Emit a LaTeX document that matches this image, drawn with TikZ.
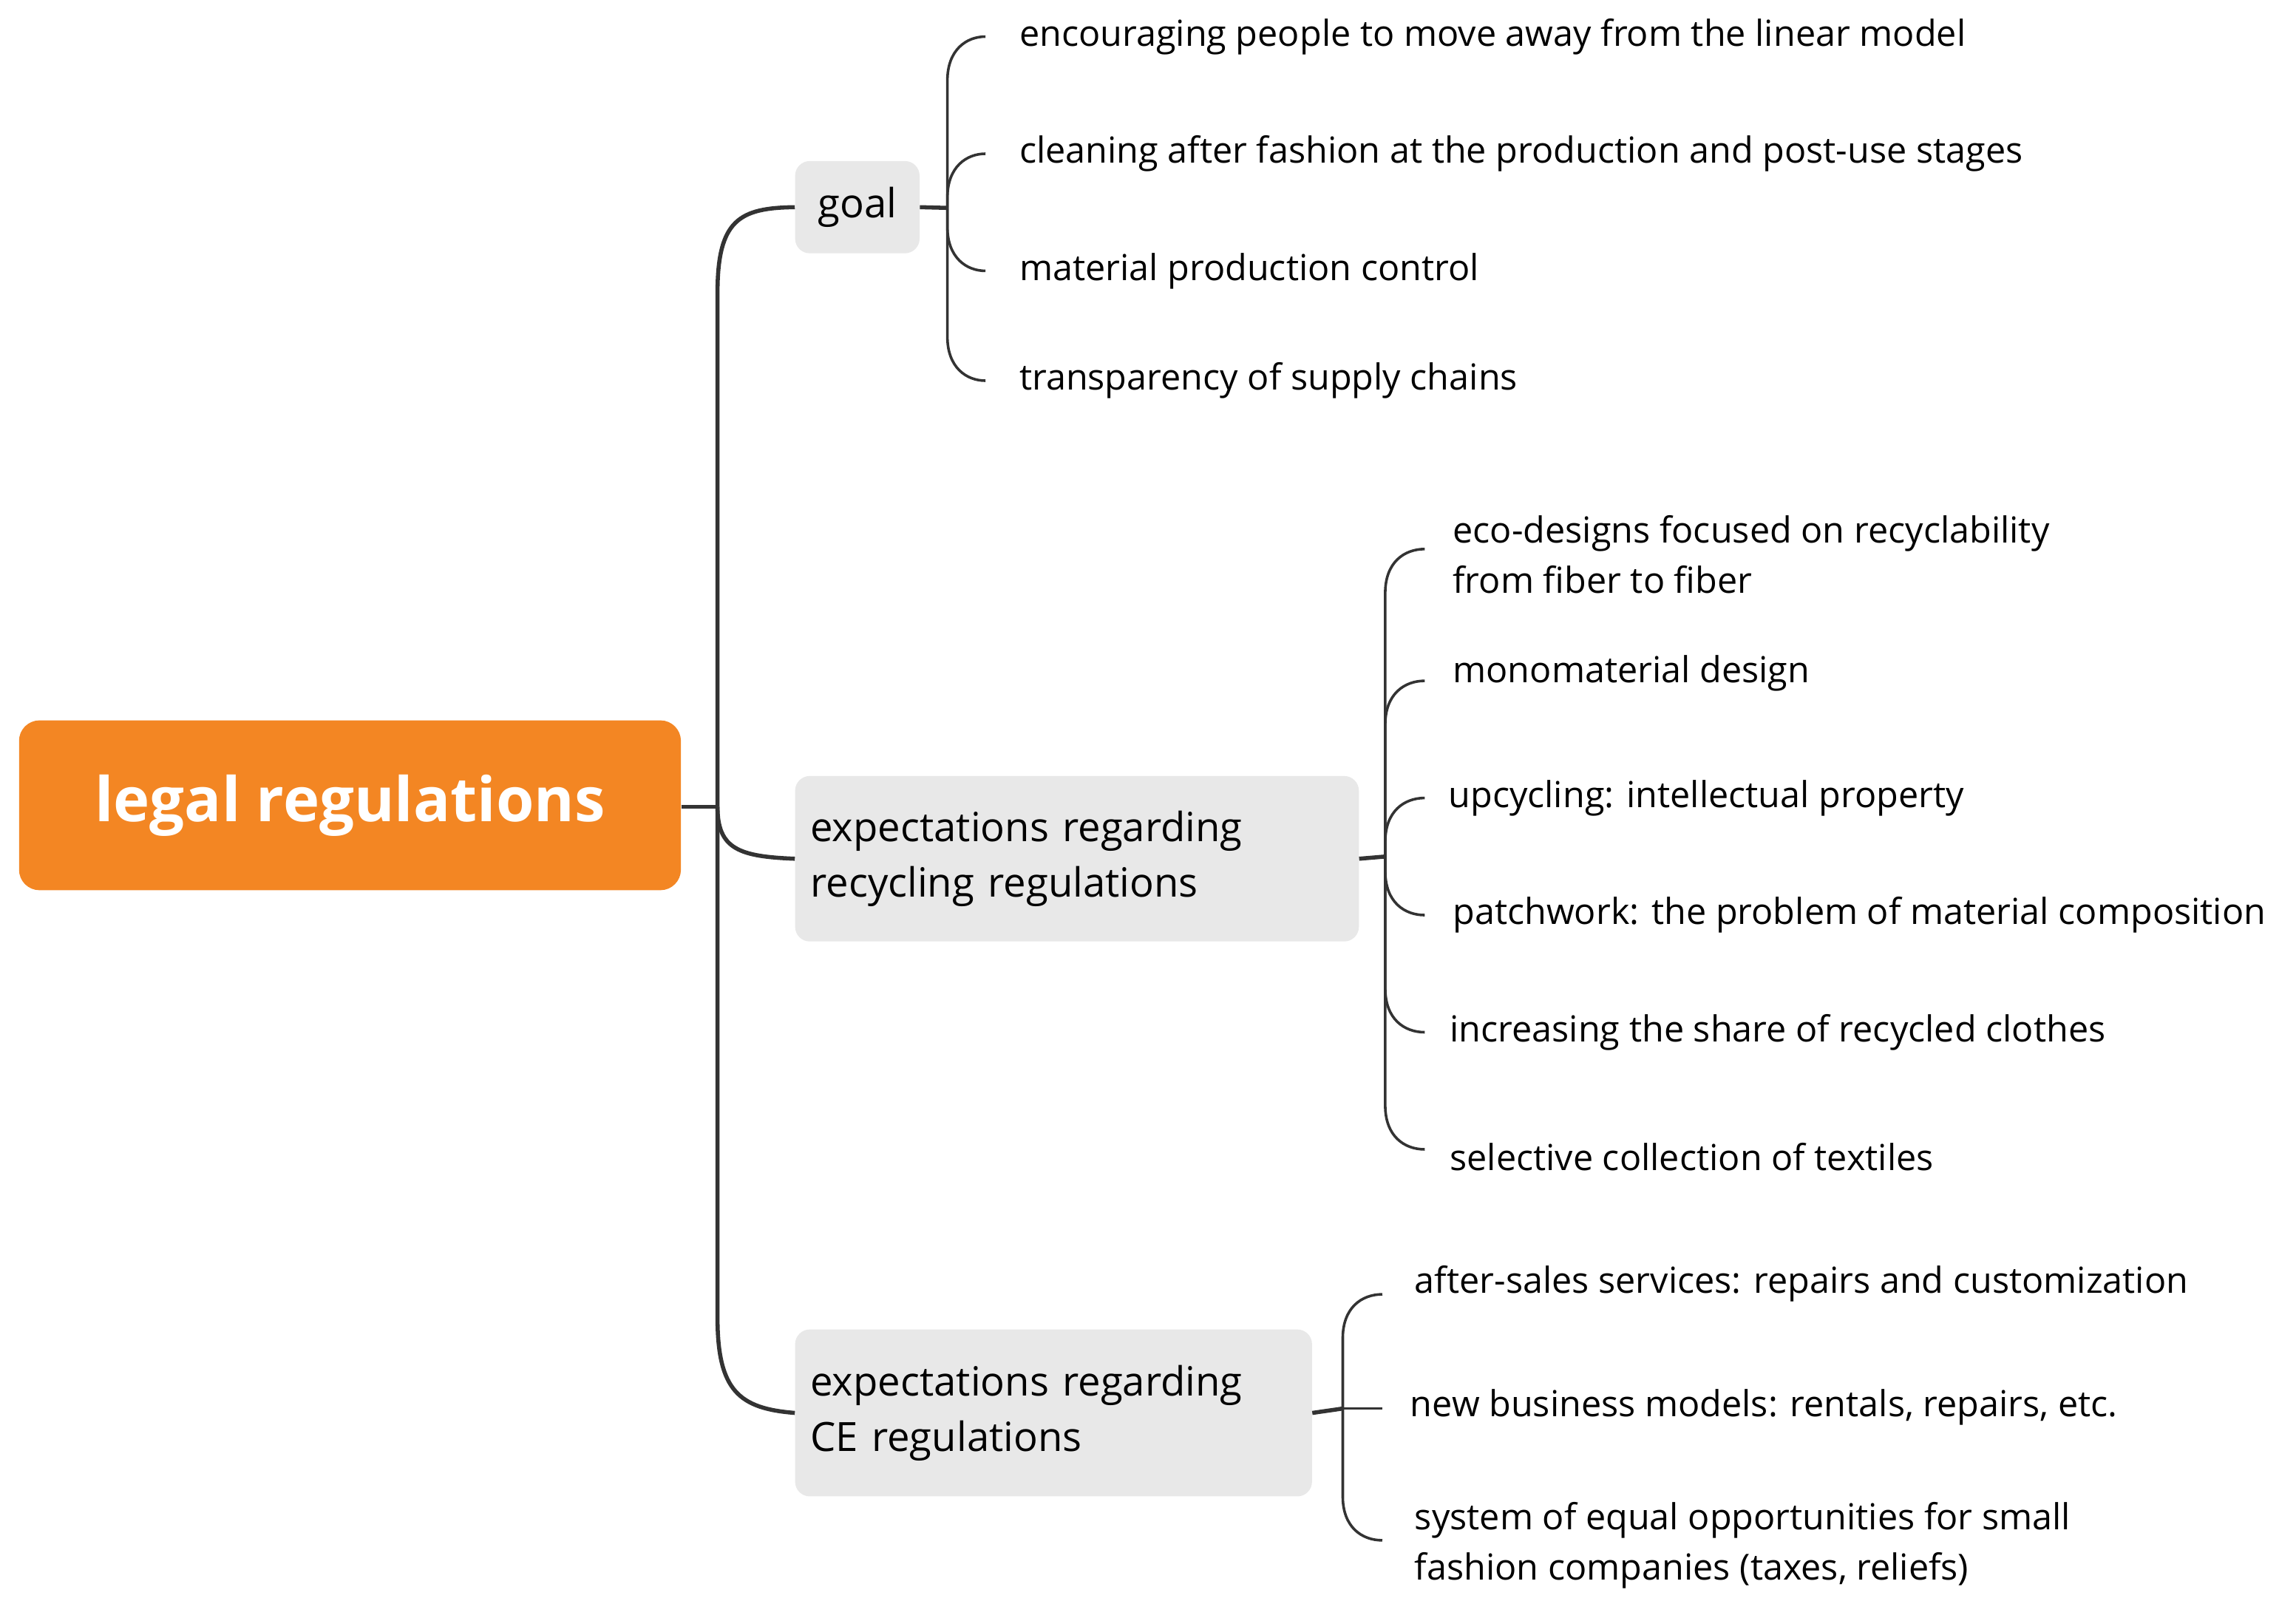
\documentclass[tikz,border=0pt]{standalone}
\usepackage{fontspec}
\setmainfont{Open Sans}
\begin{document}
\begin{tikzpicture}[x=1pt,y=-1pt,
  box/.style={fill=gray!18,rounded corners=10pt,inner sep=0pt,font=\fontsize{27.5}{38}\selectfont,align=left},
  leaf/.style={anchor=west,inner sep=0pt,font=\fontsize{24.5}{34}\selectfont,align=left},
  ln/.style={draw=black!80,line width=2.8pt},
  tw/.style={draw=black!80,line width=1.8pt}]
\useasboundingbox (0,0) rectangle (1568,1105);
\node[fill={rgb,255:red,243;green,134;blue,35},rounded corners=14pt,minimum width=452pt,minimum height=116pt,font=\fontsize{42}{44}\selectfont\bfseries,text=white] (root) at (239,550) {legal regulations};
\node[box,minimum width=85pt,minimum height=63pt] (goal) at (585.5,141.5) {goal};
\node[box,minimum width=385pt,minimum height=113pt,text width=364pt] (rec) at (735.5,586.5) {expectations regarding\\recycling regulations};
\node[box,minimum width=353pt,minimum height=114pt,text width=332pt] (ce) at (719.5,965) {expectations regarding\\CE regulations};
% trunk
\coordinate (t) at (490,551);
\draw[ln] (root.east|-t) -- (t);
\draw[ln] (t) -- (490,200) .. controls (490,150) and (505,142) .. (goal.west);
\draw[ln] (t) .. controls (490,580) and (505,585) .. (rec.west);
\draw[ln] (t) -- (490,900) .. controls (490,950) and (505,962) .. (ce.west);
% goal leaves
\node[leaf] (g1) at (696,25) {encouraging people to move away from the linear model};
\node[leaf] (g2) at (696,105) {cleaning after fashion at the production and post-use stages};
\node[leaf] (g3) at (696,185) {material production control};
\node[leaf] (g4) at (696,260) {transparency of supply chains};
\coordinate (gb) at (647,142);
\draw[ln] (goal.east) -- (gb);
\foreach \y in {25,105,185,260}{
  \pgfmathsetmacro\m{\y<142 ? \y+30 : \y-30}
  \pgfmathsetmacro\k{\y+0.3*(\m-\y)}
  \draw[tw] (gb) -- (647,\m) .. controls (647,\k) and (660,\y) .. (673,\y);}
% recycling leaves
\node[leaf,anchor=north west] (r1) at (992,352) {eco-designs focused on recyclability\\from fiber to fiber};
\node[leaf] (r2) at (992,460) {monomaterial design};
\node[leaf] (r3) at (989,545) {upcycling: intellectual property};
\node[leaf] (r4) at (992,625) {patchwork: the problem of material composition};
\node[leaf] (r5) at (990,705) {increasing the share of recycled clothes};
\node[leaf] (r6) at (990,790) {selective collection of textiles};
\coordinate (rb) at (946,585);
\draw[ln] (rec.east) -- (rb);
\foreach \y in {375,465,545,625,705,785}{
  \pgfmathsetmacro\m{\y<585 ? \y+30 : \y-30}
  \pgfmathsetmacro\k{\y+0.3*(\m-\y)}
  \draw[tw] (rb) -- (946,\m) .. controls (946,\k) and (959,\y) .. (973,\y);}
% CE leaves
\node[leaf] (c1) at (966,877) {after-sales services: repairs and customization};
\node[leaf] (c2) at (963,961) {new business models: rentals, repairs, etc.};
\node[leaf,anchor=north west] (c3) at (966,1026) {system of equal opportunities for small\\fashion companies (taxes, reliefs)};
\coordinate (cb) at (917,962);
\draw[ln] (ce.east) -- (cb);
\draw[tw] (cb) -- (917,914) .. controls (917,893) and (930,884) .. (944,884);
\draw[tw] (cb) -- (944,962);
\draw[tw] (cb) -- (917,1022) .. controls (917,1043) and (930,1052) .. (944,1052);
\end{tikzpicture}
\end{document}
